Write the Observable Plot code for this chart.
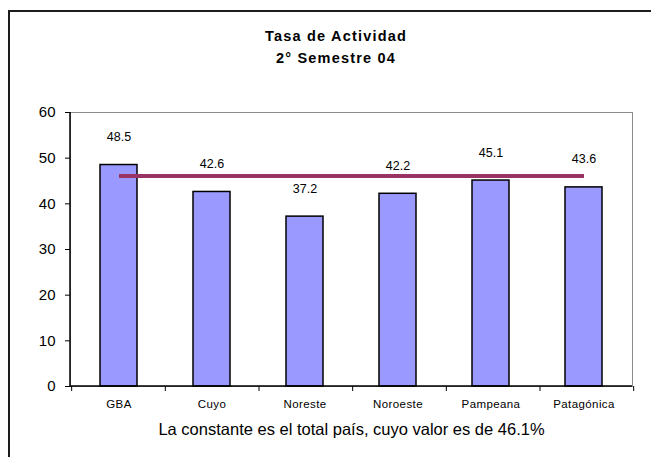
<!DOCTYPE html>
<html>
<head>
<meta charset="utf-8">
<script src="https://cdn.jsdelivr.net/npm/d3@7"></script>
<script src="https://cdn.jsdelivr.net/npm/@observablehq/plot@0.6"></script>
<style>
  body { margin: 0; background: #fff; }
  #wrap { position: relative; width: 651px; height: 457px; overflow: hidden; font-family: "Liberation Sans", Arial, sans-serif; }
  #border { position: absolute; left: 8px; top: 10px; width: 700px; height: 500px; border: 2px solid #1c1c1c; box-sizing: border-box; }
  #chart { position: absolute; left: 0; top: 0; }
  #title { position: absolute; left: 0; top: 25px; width: 672px; text-align: center; font-weight: bold; font-size: 14.5px; letter-spacing: 1.2px; line-height: 22px; color: #000; }
  #chart svg g[aria-label="x-axis tick label"] text { letter-spacing: 0.4px; }
</style>
</head>
<body>
<div id="wrap">
  <div id="border"></div>
  <div id="chart"></div>
  <div id="title"></div>
</div>
<script>
const regions = ["GBA", "Cuyo", "Noreste", "Noroeste", "Pampeana", "Patagónica"];
const rates = [48.5, 42.6, 37.2, 42.2, 45.1, 43.6];
const totalPais = 46.1;
const yTicks = [0, 10, 20, 30, 40, 50, 60];
const titleLines = ["Tasa de Actividad", "2° Semestre 04"];
const caption = "La constante es el total país, cuyo valor es de 46.1%";

const data = regions.map((r, i) => ({region: r, value: rates[i]}));
const constantLine = regions.map(r => ({region: r, value: totalPais}));

document.getElementById("title").innerHTML = titleLines.map(t => `<div>${t}</div>`).join("");

// custom axis lines: black left and bottom axis lines, and x ticks at category boundaries
function axisLines(index, scales, values, dims) {
  const x = scales.x;
  const g = d3.create("svg:g");
  const left = dims.marginLeft, right = dims.width - dims.marginRight;
  const top = dims.marginTop, bottom = dims.height - dims.marginBottom;
  const step = (right - left) / regions.length;
  const bw = x.bandwidth ? x.bandwidth() : step * 0.4;
  const start = x(regions[0]) - (step - bw) / 2;
  g.append("line").attr("x1", left).attr("x2", left).attr("y1", top).attr("y2", bottom + 0.5)
    .attr("stroke", "#000").attr("stroke-width", 1.5);
  g.append("line").attr("x1", left).attr("x2", right).attr("y1", bottom).attr("y2", bottom)
    .attr("stroke", "#000").attr("stroke-width", 1.5);
  for (let i = 0; i <= regions.length; i++) {
    const xx = start + i * step;
    g.append("line").attr("x1", xx).attr("x2", xx).attr("y1", bottom).attr("y2", bottom + 5)
      .attr("stroke", "#000").attr("stroke-width", 1);
  }
  return g.node();
}

const chart = Plot.plot({
  width: 651,
  height: 457,
  marginLeft: 70,
  marginRight: 19,
  marginTop: 112,
  marginBottom: 71,
  style: {fontFamily: '"Liberation Sans", Arial, sans-serif', color: "#000", background: "transparent"},
  x: {domain: regions, paddingInner: 0.6, paddingOuter: 0.3},
  y: {domain: [0, 60]},
  marks: [
    Plot.frame({stroke: "#8c8c8c", strokeWidth: 1}),
    Plot.barY(data, {x: "region", y: "value", fill: "#9999ff", stroke: "#000", strokeWidth: 1.5}),
    Plot.lineY(constantLine, {x: "region", y: "value", stroke: "#993366", strokeWidth: 4, strokeLinecap: "butt"}),
    Plot.text(data, {x: "region", y: "value", text: d => d.value.toFixed(1), dy: -28, fontSize: 12.5, fill: "#000", lineAnchor: "middle"}),
    Plot.axisY({ticks: yTicks, tickSize: 5, tickPadding: 10, fontSize: 15, label: null, stroke: "#000"}),
    Plot.axisX({tickSize: 0, tickPadding: 13, fontSize: 11.5, label: null}),
    axisLines,
    Plot.text([caption], {frameAnchor: "bottom", dy: 43, fontSize: 16.5, fill: "#000", lineAnchor: "middle"})
  ]
});
document.getElementById("chart").append(chart);
</script>
</body>
</html>
